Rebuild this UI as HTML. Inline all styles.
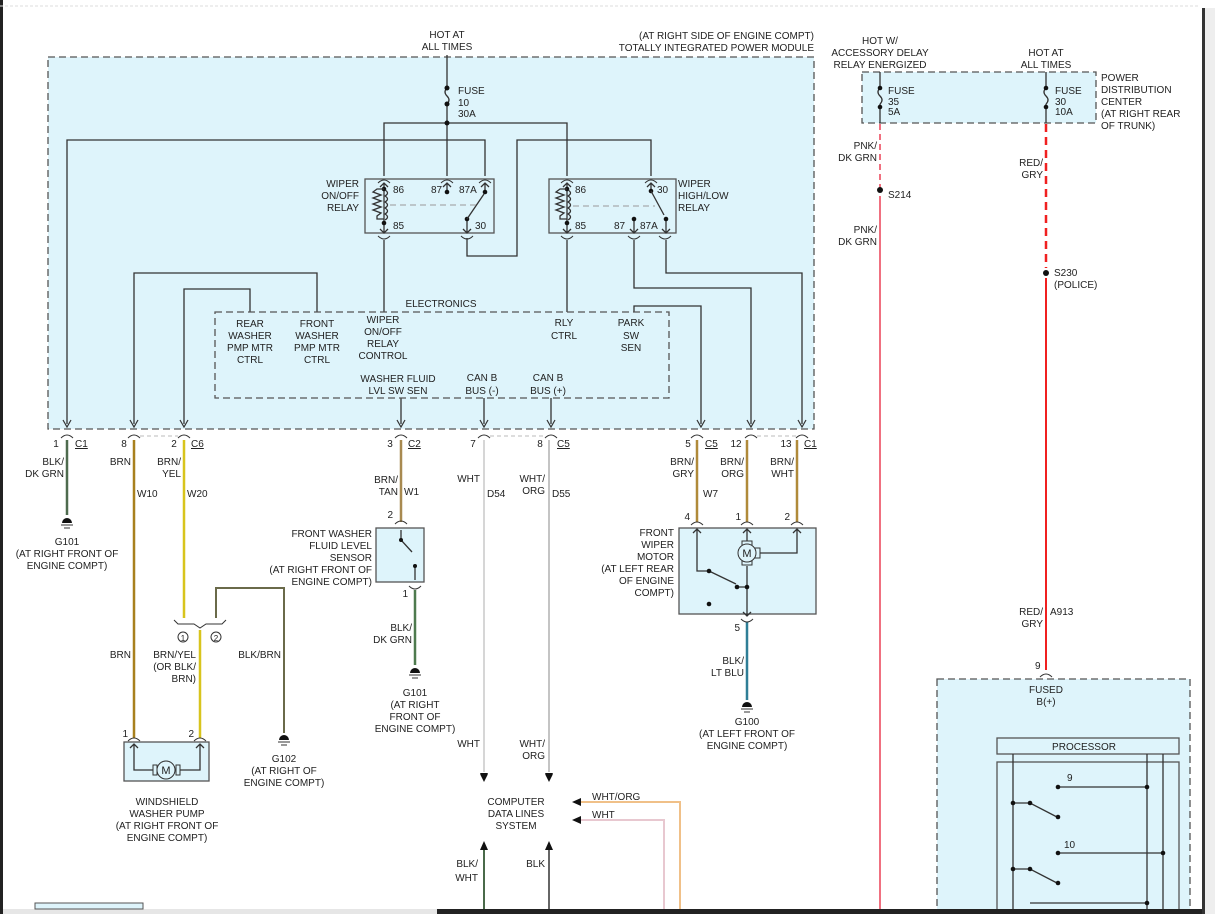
<!DOCTYPE html>
<html><head><meta charset="utf-8"><style>
html,body{margin:0;padding:0;background:#fff;}
svg{display:block;font-family:"Liberation Sans",sans-serif;font-size:10px;fill:#222;}
text{fill:#222;}
.w{fill:none;stroke:#333;stroke-width:1.3;}
.box{fill:#def4fb;stroke:#555;stroke-width:1.3;stroke-dasharray:7,4;}
.sb{fill:#def4fb;stroke:#555;stroke-width:1.3;}
.c{fill:none;stroke:#333;stroke-width:1;}
</style></head><body>
<svg width="1215" height="914" viewBox="0 0 1215 914" xmlns="http://www.w3.org/2000/svg">
<defs>
<marker id="ah" markerWidth="10" markerHeight="10" refX="5" refY="9" orient="auto" markerUnits="userSpaceOnUse"><path d="M0,0 L5,9 L10,0 Z" fill="#111"/></marker>
</defs>
<rect x="0" y="0" width="3" height="914" fill="#222"/>
<line x1="0" y1="6" x2="1200" y2="6" stroke="#ddd" stroke-dasharray="3,2"/>
<rect x="1202" y="8" width="3" height="906" fill="#333"/>
<rect x="1205" y="8" width="10" height="906" fill="#eee"/>

<!-- Main TIPM box -->
<rect class="box" x="48" y="57" width="766" height="372"/>
<text x="447" y="38" text-anchor="middle">HOT AT</text>
<text x="447" y="50" text-anchor="middle">ALL TIMES</text>
<text x="814" y="39" text-anchor="end">(AT RIGHT SIDE OF ENGINE COMPT)</text>
<text x="814" y="51" text-anchor="end">TOTALLY INTEGRATED POWER MODULE</text>
<!-- fuse -->
<path class="w" d="M447,55 V88 M447,88 q-4,4 0,8 q4,4 0,8 M447,104 V123"/>
<circle cx="447" cy="88" r="2.5" fill="#111"/><circle cx="447" cy="104" r="2.5" fill="#111"/>
<text x="458" y="94">FUSE</text><text x="458" y="106">10</text><text x="458" y="117">30A</text>
<path class="w" d="M384,176 V123 H567 V176 M447,123 V176"/>
<circle cx="447" cy="123" r="2.5" fill="#111"/>
<path class="w" d="M67,424 V140 H485 V176"/>
<path class="w" d="M651,176 V140 H517 V256 H467 V238"/>

<!-- on/off relay -->
<rect class="sb" x="365" y="179" width="129" height="54"/>
<path class="c" d="M378,183 q6,-6 12,0 M441,183 q6,-6 12,0 M479,183 q6,-6 12,0"/>
<path class="c" d="M378,236 q6,6 12,0 M461,236 q6,6 12,0"/>
<path class="w" d="M384,184 V232 M380,187 l4,-4 4,4 M380,229 l4,4 4,-4 M447,184 V190 M443,187 l4,-4 4,4 M485,184 V190 M481,187 l4,-4 4,4 M467,232 V220 M463,229 l4,4 4,-4"/>
<circle cx="384" cy="189" r="2.3" fill="#111"/><circle cx="384" cy="223" r="2.3" fill="#111"/>
<path class="w" d="M384,189 h-7 l-4,3 8,3 -8,3 8,3 -8,3 8,3 -8,3 8,3 -4,3 v3 h7"/>
<path class="w" d="M385,190 q5,3 0,6 q5,3 0,6 q5,3 0,6 q5,3 0,6 q5,3 0,6"/>
<circle cx="447" cy="192" r="2.3" fill="#111"/><circle cx="485" cy="192" r="2.3" fill="#111"/><circle cx="467" cy="219" r="2.3" fill="#111"/>
<path class="w" d="M467,219 L484,194"/>
<line x1="390" y1="205" x2="476" y2="205" stroke="#999" stroke-dasharray="6,4"/>
<text x="393" y="193">86</text><text x="431" y="193">87</text><text x="459" y="193">87A</text>
<text x="393" y="229">85</text><text x="475" y="229">30</text>
<text x="359" y="187" text-anchor="end">WIPER</text><text x="359" y="199" text-anchor="end">ON/OFF</text><text x="359" y="211" text-anchor="end">RELAY</text>

<!-- high/low relay -->
<rect class="sb" x="549" y="179" width="127" height="54"/>
<path class="c" d="M561,183 q6,-6 12,0 M645,183 q6,-6 12,0"/>
<path class="c" d="M561,236 q6,6 12,0 M628,236 q6,6 12,0 M659,236 q6,6 12,0"/>
<path class="w" d="M567,184 V232 M563,187 l4,-4 4,4 M563,229 l4,4 4,-4 M651,184 V190 M647,187 l4,-4 4,4 M634,232 V220 M630,229 l4,4 4,-4 M666,232 V220 M662,229 l4,4 4,-4"/>
<circle cx="567" cy="189" r="2.3" fill="#111"/><circle cx="567" cy="223" r="2.3" fill="#111"/>
<path class="w" d="M567,189 h-7 l-4,3 8,3 -8,3 8,3 -8,3 8,3 -8,3 8,3 -4,3 v3 h7"/>
<path class="w" d="M568,190 q5,3 0,6 q5,3 0,6 q5,3 0,6 q5,3 0,6 q5,3 0,6"/>
<circle cx="651" cy="191" r="2.3" fill="#111"/><circle cx="634" cy="219" r="2.3" fill="#111"/><circle cx="666" cy="219" r="2.3" fill="#111"/>
<path class="w" d="M651,191 L664,215"/>
<line x1="573" y1="206" x2="655" y2="206" stroke="#999" stroke-dasharray="6,4"/>
<text x="575" y="193">86</text><text x="657" y="193">30</text>
<text x="575" y="229">85</text><text x="614" y="229">87</text><text x="640" y="229">87A</text>
<text x="678" y="187">WIPER</text><text x="678" y="199">HIGH/LOW</text><text x="678" y="211">RELAY</text>

<!-- internal wires -->
<path class="w" d="M384,240 V312 M567,240 V312"/>
<path class="w" d="M134,424 V273 H317 V312"/>
<path class="w" d="M184,424 V289 H250 V312"/>
<path class="w" d="M634,240 V288 H751 V424"/>
<path class="w" d="M666,240 V273 H802 V424"/>
<path class="w" d="M634,312 V306 H701 V424"/>
<path class="w" d="M401,398 V424 M484,398 V424 M551,398 V424"/>
<g fill="none" stroke="#333" stroke-width="1.2">
<path d="M63,420 l4,7 4,-7 M130,420 l4,7 4,-7 M180,420 l4,7 4,-7 M397,420 l4,7 4,-7 M480,420 l4,7 4,-7 M547,420 l4,7 4,-7 M697,420 l4,7 4,-7 M747,420 l4,7 4,-7 M798,420 l4,7 4,-7"/>
</g>
<!-- electronics -->
<rect class="box" x="215" y="312" width="454" height="86"/>
<text x="441" y="307" text-anchor="middle">ELECTRONICS</text>
<g text-anchor="middle">
<text x="250" y="327">REAR</text><text x="250" y="339">WASHER</text><text x="250" y="351">PMP MTR</text><text x="250" y="363">CTRL</text>
<text x="317" y="327">FRONT</text><text x="317" y="339">WASHER</text><text x="317" y="351">PMP MTR</text><text x="317" y="363">CTRL</text>
<text x="383" y="323">WIPER</text><text x="383" y="335">ON/OFF</text><text x="383" y="347">RELAY</text><text x="383" y="359">CONTROL</text>
<text x="564" y="326">RLY</text><text x="564" y="339">CTRL</text>
<text x="631" y="326">PARK</text><text x="631" y="339">SW</text><text x="631" y="351">SEN</text>
<text x="398" y="382">WASHER FLUID</text><text x="398" y="394">LVL SW SEN</text>
<text x="482" y="381">CAN B</text><text x="482" y="394">BUS (-)</text>
<text x="548" y="381">CAN B</text><text x="548" y="394">BUS (+)</text>
</g>

<!-- connector arcs below box -->
<g class="c">
<path d="M61,438 q6,-6 12,0 M128,438 q6,-6 12,0 M178,438 q6,-6 12,0 M395,438 q6,-6 12,0 M478,438 q6,-6 12,0 M545,438 q6,-6 12,0 M691,438 q6,-6 12,0 M745,438 q6,-6 12,0 M796,438 q6,-6 12,0"/>
</g>
<g stroke="#bbb" stroke-dasharray="4,3"><line x1="140" y1="436" x2="178" y2="436"/><line x1="490" y1="436" x2="545" y2="436"/><line x1="757" y1="436" x2="796" y2="436"/></g>
<text x="56" y="447" text-anchor="middle">1</text><text x="75" y="447" text-decoration="underline">C1</text>
<text x="124" y="447" text-anchor="middle">8</text>
<text x="174" y="447" text-anchor="middle">2</text><text x="191" y="447" text-decoration="underline">C6</text>
<text x="390" y="447" text-anchor="middle">3</text><text x="408" y="447" text-decoration="underline">C2</text>
<text x="473" y="447" text-anchor="middle">7</text>
<text x="540" y="447" text-anchor="middle">8</text><text x="557" y="447" text-decoration="underline">C5</text>
<text x="688" y="447" text-anchor="middle">5</text><text x="705" y="447" text-decoration="underline">C5</text>
<text x="736" y="447" text-anchor="middle">12</text>
<text x="786" y="447" text-anchor="middle">13</text><text x="804" y="447" text-decoration="underline">C1</text>

<!-- lower wires -->
<path d="M67,440 V515" stroke="#4e6b4e" stroke-width="2.5" fill="none"/>
<path d="M134,440 V738" stroke="#a8801e" stroke-width="2.5" fill="none"/>
<path d="M184,440 V618" stroke="#d8c41c" stroke-width="2.5" fill="none"/>
<path d="M200,630 V738" stroke="#d8c41c" stroke-width="2.5" fill="none"/>
<path d="M216,618 V588 H284 V733" stroke="#6a6a4a" stroke-width="2" fill="none"/>
<path d="M401,440 V522" stroke="#a88a50" stroke-width="2.5" fill="none"/>
<path d="M415,590 V665" stroke="#4e7a4e" stroke-width="2.5" fill="none"/>
<path d="M484,440 V772" stroke="#d6d6d6" stroke-width="2" fill="none"/>
<path d="M549,440 V772" stroke="#c4c4c4" stroke-width="2" fill="none"/>
<path d="M697,440 V522 M747,440 V522 M797,440 V522" stroke="#b08a3a" stroke-width="2.5" fill="none"/>
<path d="M747,622 V700" stroke="#2f7e96" stroke-width="2.5" fill="none"/>
<path d="M484,776 l-4,-2 4,8 4,-8 z M549,776 l-4,-2 4,8 4,-8 z" fill="#111"/>
<path d="M480,773 h8 l-4,8 z M545,773 h8 l-4,8 z" fill="#111"/>
<path d="M480,850 h8 l-4,-9 z M545,850 h8 l-4,-9 z" fill="#111"/>
<path d="M484,850 V914" stroke="#4a6a4a" stroke-width="2" fill="none"/>
<path d="M549,850 V914" stroke="#333" stroke-width="1.5" fill="none"/>
<path d="M581,802 H680 V914" stroke="#f0c088" stroke-width="2" fill="none"/>
<path d="M581,820 H664 V914" stroke="#e8c8d0" stroke-width="2" fill="none"/>
<path d="M572,802 l9,-4 v8 z M572,820 l9,-4 v8 z" fill="#111"/>

<!-- wire labels -->
<g text-anchor="end">
<text x="64" y="465">BLK/</text><text x="64" y="477">DK GRN</text>
<text x="131" y="465">BRN</text>
<text x="181" y="465">BRN/</text><text x="181" y="477">YEL</text>
<text x="398" y="483">BRN/</text><text x="398" y="495">TAN</text>
<text x="480" y="482">WHT</text>
<text x="545" y="482">WHT/</text><text x="545" y="494">ORG</text>
<text x="694" y="465">BRN/</text><text x="694" y="477">GRY</text>
<text x="744" y="465">BRN/</text><text x="744" y="477">ORG</text>
<text x="794" y="465">BRN/</text><text x="794" y="477">WHT</text>
<text x="131" y="658">BRN</text>
<text x="196" y="658">BRN/YEL</text><text x="196" y="670">(OR BLK/</text><text x="196" y="682">BRN)</text>
<text x="281" y="658">BLK/BRN</text>
<text x="412" y="631">BLK/</text><text x="412" y="643">DK GRN</text>
<text x="480" y="747">WHT</text>
<text x="545" y="747">WHT/</text><text x="545" y="759">ORG</text>
<text x="478" y="867">BLK/</text><text x="478" y="881">WHT</text>
<text x="545" y="867">BLK</text>
<text x="744" y="664">BLK/</text><text x="744" y="676">LT BLU</text>
</g>
<text x="137" y="497">W10</text><text x="187" y="497">W20</text><text x="404" y="495">W1</text>
<text x="487" y="497">D54</text><text x="552" y="497">D55</text><text x="703" y="497">W7</text>
<text x="592" y="800">WHT/ORG</text><text x="592" y="818">WHT</text>
<g text-anchor="middle"><text x="516" y="805">COMPUTER</text><text x="516" y="817">DATA LINES</text><text x="516" y="829">SYSTEM</text></g>

<!-- splice connector -->
<path class="c" d="M174,620 l4,4 h16 l6,4 6,-4 h16 l4,-4"/>
<circle cx="183" cy="637" r="5" fill="none" stroke="#333"/><text x="183" y="641" text-anchor="middle" font-size="8">1</text>
<circle cx="216" cy="637" r="5" fill="none" stroke="#333"/><text x="216" y="641" text-anchor="middle" font-size="8">2</text>

<!-- grounds -->
<g fill="#111"><path d="M62,523 a5,5 0 0 1 10,0 z"/><path d="M279,740 a5,5 0 0 1 10,0 z"/><path d="M410,673 a5,5 0 0 1 10,0 z"/><path d="M742,707 a5,5 0 0 1 10,0 z"/></g>
<g stroke="#333"><line x1="61" y1="525" x2="73" y2="525"/><line x1="64" y1="528" x2="70" y2="528"/>
<line x1="278" y1="742" x2="290" y2="742"/><line x1="281" y1="745" x2="287" y2="745"/>
<line x1="409" y1="675" x2="421" y2="675"/><line x1="412" y1="678" x2="418" y2="678"/>
<line x1="741" y1="709" x2="753" y2="709"/><line x1="744" y1="712" x2="750" y2="712"/></g>
<g text-anchor="middle">
<text x="67" y="545">G101</text><text x="67" y="557">(AT RIGHT FRONT OF</text><text x="67" y="569">ENGINE COMPT)</text>
<text x="284" y="762">G102</text><text x="284" y="774">(AT RIGHT OF</text><text x="284" y="786">ENGINE COMPT)</text>
<text x="415" y="696">G101</text><text x="415" y="708">(AT RIGHT</text><text x="415" y="720">FRONT OF</text><text x="415" y="732">ENGINE COMPT)</text>
<text x="747" y="725">G100</text><text x="747" y="737">(AT LEFT FRONT OF</text><text x="747" y="749">ENGINE COMPT)</text>
<text x="167" y="805">WINDSHIELD</text><text x="167" y="817">WASHER PUMP</text><text x="167" y="829">(AT RIGHT FRONT OF</text><text x="167" y="841">ENGINE COMPT)</text>
</g>

<!-- washer fluid sensor -->
<rect class="sb" x="376" y="528" width="48" height="54"/>
<path class="c" d="M395,524 q6,-6 12,0 M409,586 q6,6 12,0"/>
<path class="w" d="M401,530 V540 L412,552 M415,580 V566"/>
<circle cx="401" cy="540" r="2" fill="#111"/><circle cx="415" cy="566" r="2" fill="#111"/>
<text x="393" y="518" text-anchor="end">2</text><text x="408" y="597" text-anchor="end">1</text>
<g text-anchor="end"><text x="372" y="537">FRONT WASHER</text><text x="372" y="549">FLUID LEVEL</text><text x="372" y="561">SENSOR</text><text x="372" y="573">(AT RIGHT FRONT OF</text><text x="372" y="585">ENGINE COMPT)</text></g>

<!-- wiper motor -->
<rect class="sb" x="679" y="528" width="137" height="86"/>
<path class="c" d="M691,525 q6,-6 12,0 M741,525 q6,-6 12,0 M791,525 q6,-6 12,0 M741,619 q6,6 12,0"/>
<path class="w" d="M697,530 V571 H709 M747,530 V541 M747,566 V616 M739,587 H747 M758,553 H797 V530 M693,533 l4,-4 4,4 M743,533 l4,-4 4,4 M793,533 l4,-4 4,4 M743,612 l4,4 4,-4"/>
<rect x="742" y="541" width="10" height="4" fill="#def4fb" stroke="#333"/><rect x="742" y="561" width="10" height="4" fill="#def4fb" stroke="#333"/>
<rect x="755" y="548" width="5" height="10" fill="#def4fb" stroke="#333"/>
<circle cx="747" cy="553" r="9" fill="#def4fb" stroke="#333"/><text x="747" y="557" text-anchor="middle" font-size="11">M</text>
<path class="w" d="M709,571 L736,584"/>
<circle cx="709" cy="571" r="2.3" fill="#111"/><circle cx="737" cy="587" r="2.3" fill="#111"/><circle cx="747" cy="587" r="2.3" fill="#111"/><circle cx="709" cy="604" r="2.3" fill="#111"/>
<text x="690" y="520" text-anchor="end">4</text><text x="741" y="520" text-anchor="end">1</text><text x="790" y="520" text-anchor="end">2</text><text x="740" y="631" text-anchor="end">5</text>
<g text-anchor="end"><text x="674" y="536">FRONT</text><text x="674" y="548">WIPER</text><text x="674" y="560">MOTOR</text><text x="674" y="572">(AT LEFT REAR</text><text x="674" y="584">OF ENGINE</text><text x="674" y="596">COMPT)</text></g>

<!-- washer pump -->
<rect class="sb" x="124" y="742" width="85" height="39"/>
<path class="c" d="M128,741 q6,-6 12,0 M194,741 q6,-6 12,0"/>
<path class="w" d="M134,744 V770 H155 M200,744 V770 H177 M130,748 l4,-4 4,4 M196,748 l4,-4 4,4"/>
<rect x="153" y="765" width="4" height="10" fill="#def4fb" stroke="#333"/><rect x="176" y="765" width="4" height="10" fill="#def4fb" stroke="#333"/>
<circle cx="166" cy="770" r="9" fill="#def4fb" stroke="#333"/><text x="166" y="774" text-anchor="middle" font-size="11">M</text>
<text x="128" y="737" text-anchor="end">1</text><text x="194" y="737" text-anchor="end">2</text>

<!-- PDC -->
<rect class="box" x="862" y="72" width="234" height="51"/>
<g text-anchor="middle"><text x="880" y="44">HOT W/</text><text x="880" y="56">ACCESSORY DELAY</text><text x="880" y="68">RELAY ENERGIZED</text>
<text x="1046" y="56">HOT AT</text><text x="1046" y="68">ALL TIMES</text></g>
<text x="1101" y="81">POWER</text><text x="1101" y="93">DISTRIBUTION</text><text x="1101" y="105">CENTER</text><text x="1101" y="117">(AT RIGHT REAR</text><text x="1101" y="129">OF TRUNK)</text>
<path class="w" d="M880,72 V88 M880,88 q-4,4 0,8 q4,4 0,8 M880,104 V123 M1046,72 V88 M1046,88 q-4,4 0,8 q4,4 0,8 M1046,104 V123"/>
<circle cx="880" cy="88" r="2.3" fill="#111"/><circle cx="880" cy="107" r="2.3" fill="#111"/><circle cx="1046" cy="88" r="2.3" fill="#111"/><circle cx="1046" cy="107" r="2.3" fill="#111"/>
<text x="888" y="94">FUSE</text><text x="888" y="105">35</text><text x="888" y="115">5A</text>
<text x="1055" y="94">FUSE</text><text x="1055" y="105">30</text><text x="1055" y="115">10A</text>
<path d="M880,124 V188" stroke="#f07080" stroke-width="2" stroke-dasharray="6,4" fill="none"/>
<path d="M880,196 V914" stroke="#f07080" stroke-width="2" fill="none"/>
<path d="M1046,124 V268" stroke="#f02020" stroke-width="2.5" stroke-dasharray="8,5" fill="none"/>
<path d="M1046,278 V670" stroke="#f02020" stroke-width="2" fill="none"/>
<circle cx="880" cy="190" r="3" fill="#111"/><circle cx="1046" cy="273" r="3" fill="#111"/>
<text x="888" y="198">S214</text><text x="1054" y="276">S230</text><text x="1054" y="288">(POLICE)</text>
<g text-anchor="end"><text x="877" y="149">PNK/</text><text x="877" y="161">DK GRN</text><text x="877" y="233">PNK/</text><text x="877" y="245">DK GRN</text>
<text x="1043" y="166">RED/</text><text x="1043" y="178">GRY</text><text x="1043" y="615">RED/</text><text x="1043" y="627">GRY</text></g>
<text x="1050" y="615">A913</text><text x="1035" y="669">9</text>
<path class="c" d="M1040,677 q6,-6 12,0"/>

<!-- right module -->
<rect class="box" x="937" y="679" width="253" height="240"/>
<text x="1046" y="693" text-anchor="middle">FUSED</text><text x="1046" y="705" text-anchor="middle">B(+)</text>
<rect class="sb" x="997" y="738" width="182" height="16"/>
<text x="1084" y="750" text-anchor="middle">PROCESSOR</text>
<rect class="sb" x="997" y="762" width="182" height="160"/>
<path class="w" d="M1013,754 V914 M1147,754 V914 M1163,754 V914 M1058,787 H1147 M1058,853 H1163 M1013,803 H1030 L1057,817 M1013,869 H1030 L1057,883 M1030,903 H1147"/>
<g fill="#111"><circle cx="1058" cy="787" r="2.3"/><circle cx="1147" cy="787" r="2.3"/><circle cx="1013" cy="803" r="2.3"/><circle cx="1030" cy="803" r="2.3"/><circle cx="1058" cy="817" r="2.3"/>
<circle cx="1058" cy="853" r="2.3"/><circle cx="1163" cy="853" r="2.3"/><circle cx="1013" cy="869" r="2.3"/><circle cx="1030" cy="869" r="2.3"/><circle cx="1058" cy="883" r="2.3"/><circle cx="1147" cy="903" r="2.3"/></g>
<text x="1067" y="781">9</text><text x="1064" y="848">10</text>

<!-- bottom strip -->
<rect x="3" y="909" width="434" height="5" fill="#e6e6e6"/>
<rect x="35" y="903" width="108" height="6" fill="#def4fb" stroke="#555"/>
<rect x="437" y="909" width="765" height="5" fill="#222"/>
</svg>
</body></html>
